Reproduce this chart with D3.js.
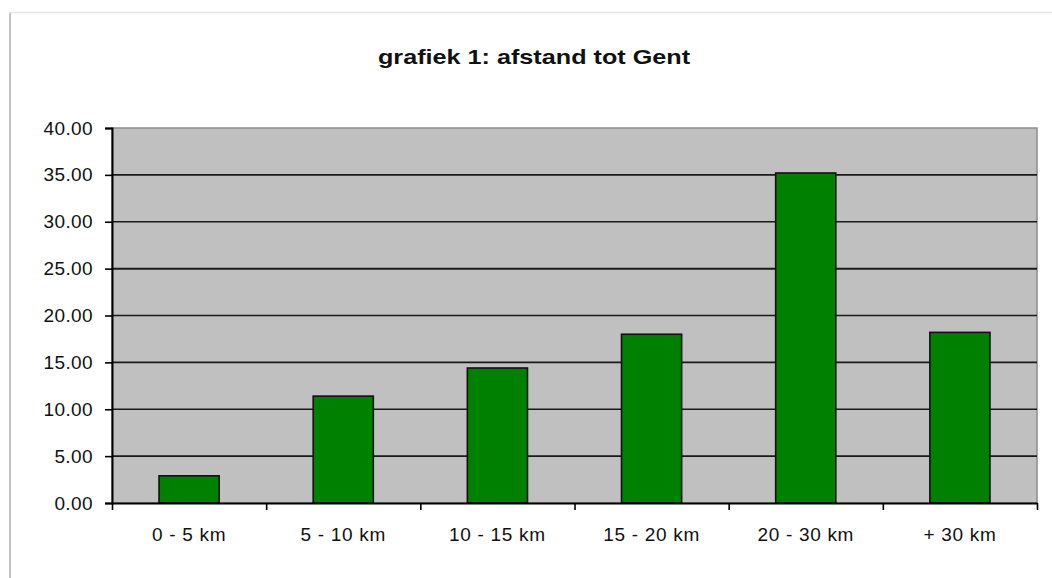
<!DOCTYPE html>
<html>
<head>
<meta charset="utf-8">
<script src="https://cdn.jsdelivr.net/npm/d3@7"></script>
<style>
  html, body { margin: 0; padding: 0; background: #fff; }
  svg { display: block; }
  text { font-family: "Liberation Sans", Arial, sans-serif; fill: #111; }
</style>
</head>
<body>
<svg id="chart" width="1052" height="578"></svg>
<script>
const title = "grafiek 1: afstand tot Gent";
const categories = ["0 - 5 km", "5 - 10 km", "10 - 15 km", "15 - 20 km", "20 - 30 km", "+ 30 km"];
const values = [2.9, 11.4, 14.4, 18.0, 35.2, 18.2];
const yTicks = [0, 5, 10, 15, 20, 25, 30, 35, 40];

const svg = d3.select("#chart");
const plot = { left: 112, right: 1037, top: 128, bottom: 503 };

// outer chart frame
svg.append("line").attr("x1", 10).attr("x2", 10).attr("y1", 12).attr("y2", 578)
  .attr("stroke", "#c0c0c0").attr("stroke-width", 2);
svg.append("line").attr("x1", 9).attr("x2", 1052).attr("y1", 12.5).attr("y2", 12.5)
  .attr("stroke", "#e6e6e6").attr("stroke-width", 1.5);

const y = d3.scaleLinear().domain([0, 40]).range([plot.bottom, plot.top]);
const x = d3.scaleBand().domain(categories).range([plot.left, plot.right])
  .paddingInner(0.61).paddingOuter(0.305);
const xEdges = d3.scaleLinear().domain([0, categories.length]).range([plot.left, plot.right]);

// plot background
svg.append("rect").attr("x", plot.left).attr("y", plot.top)
  .attr("width", plot.right - plot.left).attr("height", plot.bottom - plot.top)
  .attr("fill", "#c0c0c0").attr("stroke", "#8c8c8c").attr("stroke-width", 1.5);

// gridlines
svg.append("g").selectAll("line").data(yTicks.filter(t => t > 0 && t < 40)).join("line")
  .attr("x1", plot.left).attr("x2", plot.right)
  .attr("y1", d => y(d)).attr("y2", d => y(d))
  .attr("stroke", "#1a1a1a").attr("stroke-width", d => d === 25 ? 2 : 1.6);

// bars
svg.append("g").selectAll("rect").data(values).join("rect")
  .attr("x", (d, i) => x(categories[i]))
  .attr("y", d => y(d))
  .attr("width", x.bandwidth())
  .attr("height", d => y(0) - y(d))
  .attr("fill", "#008000").attr("stroke", "#111").attr("stroke-width", 1.6);

// y axis
const yAxis = svg.append("g").attr("transform", `translate(${plot.left},0)`)
  .call(d3.axisLeft(y).tickValues(yTicks).tickFormat(d3.format(".2f")).tickSize(7).tickPadding(12));
yAxis.select(".domain").attr("stroke", "#000").attr("stroke-width", 2);
yAxis.selectAll(".tick line").attr("stroke", "#000").attr("stroke-width", 1.6);
yAxis.selectAll(".tick text").attr("font-size", 19).style("letter-spacing", "0.4px")
  .attr("fill", "#111").attr("font-family", "Liberation Sans, Arial, sans-serif");

// x axis ticks at category edges
const xTickAxis = svg.append("g").attr("transform", `translate(0,${plot.bottom})`)
  .call(d3.axisBottom(xEdges).ticks(categories.length).tickFormat("").tickSize(7).tickSizeOuter(0));
xTickAxis.select(".domain").attr("stroke", "#000").attr("stroke-width", 2);
xTickAxis.selectAll(".tick line").attr("stroke", "#000").attr("stroke-width", 1.6);

// x labels
const xLab = svg.append("g").attr("transform", `translate(0,${plot.bottom})`)
  .call(d3.axisBottom(x).tickSize(0).tickPadding(25));
xLab.select(".domain").remove();
xLab.selectAll(".tick text").attr("font-size", 19).style("letter-spacing", "0.7px")
  .attr("fill", "#111").attr("font-family", "Liberation Sans, Arial, sans-serif");

// title
svg.append("text")
  .attr("transform", "translate(534,64) scale(1.26,1)")
  .attr("text-anchor", "middle")
  .attr("font-size", 20).attr("font-weight", "bold")
  .text(title);
</script>
</body>
</html>
